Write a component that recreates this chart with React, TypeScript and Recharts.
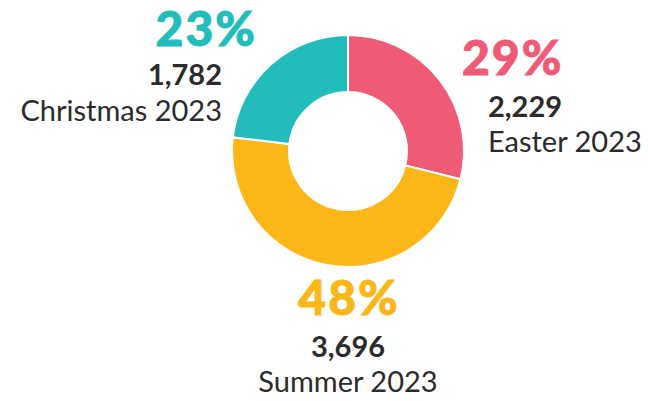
import { PieChart, Pie, Cell } from "recharts";

const seasons = ["Easter 2023", "Summer 2023", "Christmas 2023"];
const bookings = [2229, 3696, 1782];
const colors = ["#EF5B76", "#FBB718", "#22BDBA"];

const data = seasons.map((name, i) => ({ name, value: bookings[i] }));

const RAD = Math.PI / 180;
const FONT = "Lato, 'Noto Sans', sans-serif";
const INK = "#2b2b2b";

function SeasonLabel(props: any) {
  const { cx, cy, midAngle, outerRadius, percent, index, value, name } = props;
  const cos = Math.cos(-midAngle * RAD);
  const color = colors[index % colors.length];
  const pct = `${Math.round(percent * 100)}%`;
  const num = Number(value).toLocaleString("en-US");

  // side of the donut decides the text block layout
  let anchor: "start" | "end" | "middle" = "middle";
  let px = cx + 1, nx = cx, y0 = cy + outerRadius + 48, y1 = cy + outerRadius + 90, y2 = cy + outerRadius + 125;
  if (cos > 0.3) {
    anchor = "start";
    px = cx + outerRadius - 2;
    nx = cx + outerRadius + 24;
    y0 = cy - 76;
    y1 = cy - 34;
    y2 = cy + 1;
  } else if (cos < -0.3) {
    anchor = "end";
    px = cx - outerRadius + 25;
    nx = cx - outerRadius - 10;
    y0 = cy - 105;
    y1 = cy - 66;
    y2 = cy - 30;
  }

  return (
    <g fontFamily={FONT}>
      <text x={px} y={y0} textAnchor={anchor} fill={color} stroke={color} strokeWidth={0.9} fontSize={48} fontWeight={900} letterSpacing={2}>
        {pct}
      </text>
      <text x={nx} y={y1} textAnchor={anchor} fill={INK} fontSize={29} fontWeight={700}>
        {num}
      </text>
      <text x={nx} y={y2} textAnchor={anchor} fill={INK} fontSize={29} fontWeight={400}>
        {name}
      </text>
    </g>
  );
}

export default function App() {
  return (
    <div style={{ position: "fixed", left: 0, top: 0, width: 648, height: 401, background: "#fff" }}>
      <PieChart width={648} height={401} margin={{ top: 0, right: 0, bottom: 0, left: 0 }}>
        <Pie
          data={data}
          dataKey="value"
          nameKey="name"
          cx={348}
          cy={151}
          innerRadius={59}
          outerRadius={116}
          startAngle={90}
          endAngle={-270}
          stroke="#ffffff"
          strokeWidth={2}
          label={SeasonLabel}
          labelLine={false}
          isAnimationActive={false}
        >
          {data.map((d, i) => (
            <Cell key={`cell-${d.name}`} fill={colors[i % colors.length]} />
          ))}
        </Pie>
      </PieChart>
    </div>
  );
}
